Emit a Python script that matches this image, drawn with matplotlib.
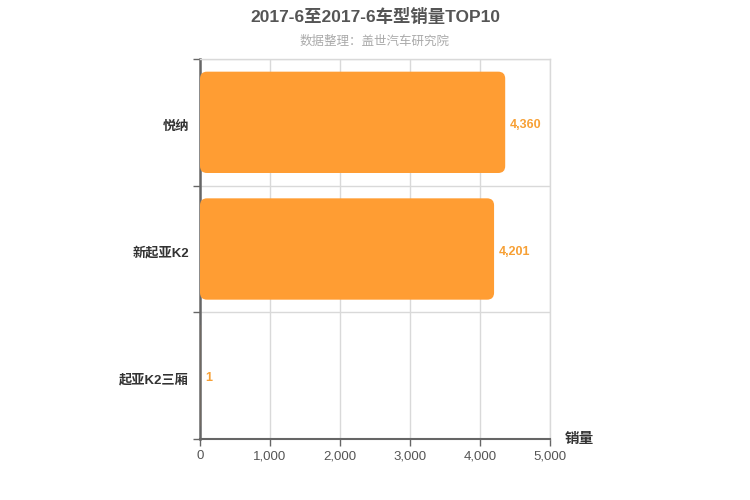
import matplotlib
matplotlib.use("Agg")
import matplotlib.pyplot as plt
import matplotlib.transforms as mtrans
from matplotlib.patches import FancyBboxPatch
from matplotlib.ticker import FuncFormatter

plt.rcParams['font.family'] = ['Liberation Sans', 'Noto Sans CJK SC', 'DejaVu Sans']

categories = ["悦纳", "新起亚K2", "起亚K2三厢"]
values = [4360, 4201, 1]
x_ticks = [0, 1000, 2000, 3000, 4000, 5000]
title = "2017-6至2017-6车型销量TOP10"
subtitle = "数据整理：盖世汽车研究院"
axis_name = "销量"

bar_color = "#FF9D33"
label_color = "#F7A035"

fig = plt.figure(figsize=(7.5, 5), dpi=100)
ax = fig.add_axes([200/750, 61/500, 350/750, 380/500])

ax.set_xlim(0, 5000)
ax.set_ylim(len(categories) - 0.5, -0.5)

ux = 5000 / 350.0
uy = len(categories) / 380.0
r_px = 7
for i, v in enumerate(values):
    h = 0.8
    y0 = i - h / 2
    if v <= 0:
        continue
    rs = min(r_px * ux, v / 2.0)
    p = FancyBboxPatch((0, y0), v, h,
                       boxstyle=f"round,pad=0,rounding_size={rs}",
                       mutation_aspect=uy / ux,
                       facecolor=bar_color, edgecolor='none', zorder=3)
    ax.add_patch(p)
    ax.annotate(f"{v:,}", xy=(v, i), xytext=(3.6, -2), textcoords='offset points',
                ha='left', va='center', color=label_color, fontsize=9,
                fontweight='bold', zorder=4)

# grid
ax.set_xticks(x_ticks)
ax.xaxis.set_major_formatter(FuncFormatter(lambda x, p: f"{int(x):,}"))
bounds = [i - 0.5 for i in range(len(categories) + 1)]
ax.set_yticks(bounds)
ax.set_yticklabels([])
ax.set_yticks(range(len(categories)), minor=True)
ax.set_yticklabels(categories, minor=True)
ax.tick_params(axis='y', which='minor', length=0, pad=8, labelsize=9.5,
               labelcolor='#333333')
shift = mtrans.ScaledTranslation(0, -2/72, fig.dpi_scale_trans)
for lab in ax.get_yticklabels(minor=True):
    lab.set_fontweight('bold')
    lab.set_transform(lab.get_transform() + shift)
ax.tick_params(axis='y', which='major', length=5, width=1, color='#666666')
ax.tick_params(axis='x', which='major', length=5, width=1, color='#666666',
               labelsize=9.5, labelcolor='#555555', pad=3)

ax.grid(True, which='major', color='#d9d9d9', linewidth=1, zorder=0)
ax.set_axisbelow(True)

for s in ['top', 'right']:
    ax.spines[s].set_color('#d9d9d9')
    ax.spines[s].set_linewidth(1)
ax.spines['left'].set_color('#666666')
ax.spines['left'].set_linewidth(1.8)
ax.spines['bottom'].set_color('#666666')
ax.spines['bottom'].set_linewidth(1.5)

fig.text(0.5, 0.966, title, ha='center', va='center', fontsize=12.5,
         fontweight='bold', color='#555555')
fig.text(0.5, 0.918, subtitle, ha='center', va='center', fontsize=9,
         color='#AAAAAA', family=['Noto Sans CJK SC', 'DejaVu Sans'])
fig.text(565/750, 1 - 439/500, axis_name, ha='left', va='center',
         fontsize=10.5, fontweight='bold', color='#333333')

fig.savefig("out.png", dpi=100)
